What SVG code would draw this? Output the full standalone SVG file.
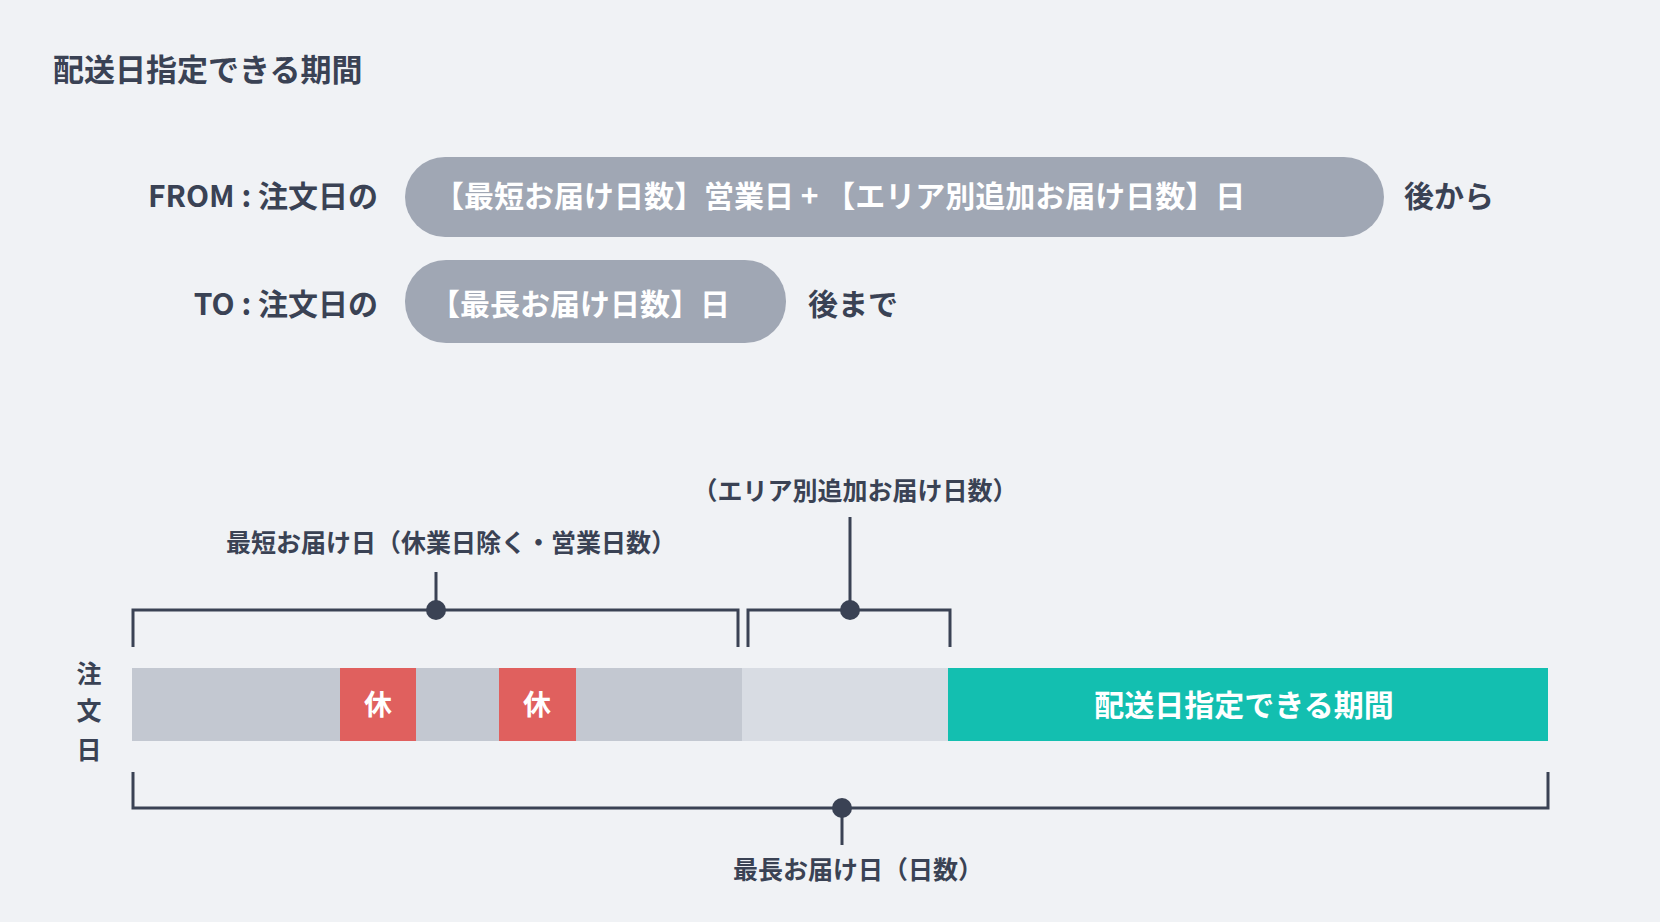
<svg xmlns="http://www.w3.org/2000/svg" width="1660" height="922" viewBox="0 0 1660 922">
<style>
text{font-family:"Noto Sans CJK JP","Noto Sans",sans-serif;font-weight:bold;fill:#3a4254}
.w{fill:#fff}
.br{fill:none;stroke:#3a4254;stroke-width:3}
.dot{fill:#3a4254}
</style>
<rect width="1660" height="922" fill="#f0f2f5"/>
<text x="53" y="81" font-size="31">配送日指定できる期間</text>
<g id="from">
<text x="378" y="207" font-size="30" text-anchor="end">FROM : 注文日の</text>
<rect x="405" y="157" width="979" height="80" rx="40" fill="#a0a7b4"/>
<text class="w" x="434" y="207" font-size="30">【最短お届け日数】営業日 + 【エリア別追加お届け日数】日</text>
<text x="1404" y="207" font-size="30">後から</text>
</g>
<g id="to">
<text x="378" y="315" font-size="30" text-anchor="end">TO : 注文日の</text>
<rect x="405" y="260" width="381" height="83" rx="41" fill="#a0a7b4"/>
<text class="w" x="430" y="315" font-size="30">【最長お届け日数】日</text>
<text x="808" y="315" font-size="30">後まで</text>
</g>
<g id="bar">
<rect x="132" y="668" width="610" height="73" fill="#c3c8d1"/>
<rect x="340" y="668" width="76" height="73" fill="#e0605e"/>
<rect x="499" y="668" width="77" height="73" fill="#e0605e"/>
<rect x="742" y="668" width="206" height="73" fill="#d8dce3"/>
<rect x="948" y="668" width="600" height="73" fill="#13bfb0"/>
<text class="w" x="378" y="715" font-size="28" text-anchor="middle">休</text>
<text class="w" x="537" y="715" font-size="28" text-anchor="middle">休</text>
<text class="w" x="1244" y="716" font-size="30" text-anchor="middle">配送日指定できる期間</text>
</g>
<g id="order" font-size="25">
<text x="89" y="683" text-anchor="middle">注</text>
<text x="89" y="720" text-anchor="middle">文</text>
<text x="89" y="759" text-anchor="middle">日</text>
</g>
<g id="connectors">
<path class="br" d="M133 647V610H738V647"/>
<path class="br" d="M748 647V610H950V647"/>
<path class="br" d="M133 772V808H1548V772"/>
<path class="br" stroke-width="2" d="M436 572V610M850 517V610M842 808V845"/>
<circle class="dot" cx="436" cy="610" r="10"/>
<circle class="dot" cx="850" cy="610" r="10"/>
<circle class="dot" cx="842" cy="808" r="10"/>
</g>
<text x="451" y="552" font-size="25" text-anchor="middle">最短お届け日（休業日除く・営業日数）</text>
<text x="855" y="500" font-size="25" text-anchor="middle">（エリア別追加お届け日数）</text>
<text x="858" y="879" font-size="25" text-anchor="middle">最長お届け日（日数）</text>
</svg>
